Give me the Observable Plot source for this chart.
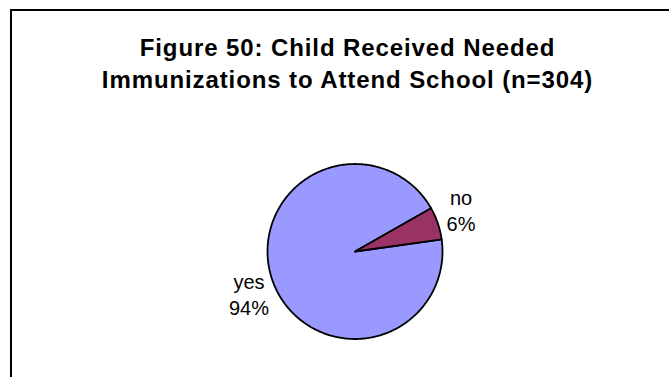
<!DOCTYPE html>
<html>
<head>
<meta charset="utf-8">
<script src="https://cdn.jsdelivr.net/npm/d3@7"></script>
<script src="https://cdn.jsdelivr.net/npm/@observablehq/plot@0.6"></script>
<style>
  html, body { margin: 0; padding: 0; background: #fff; overflow: hidden; }
  #wrap { position: relative; width: 669px; height: 377px; }
  #frame { position: absolute; left: 10px; top: 9px; width: 700px; height: 400px;
           border-top: 2px solid #000; border-left: 2px solid #000; pointer-events: none; }
  #wrap svg g[aria-label="text"]:last-of-type text { letter-spacing: 0.9px; }
</style>
</head>
<body>
<div id="wrap"><div id="frame"></div></div>
<script>
const titleText = "Figure 50: Child Received Needed\nImmunizations to Attend School (n=304)";
const categories = ["yes", "no"];
const percents = [94, 6];
const colors = ["#9999FF", "#993366"];

// Excel-style pie: first slice begins at this compass angle, clockwise
const firstSliceAngle = 82 * Math.PI / 180;

const pie = d3.pie().sort(null).value(d => d.value)
  .startAngle(firstSliceAngle).endAngle(firstSliceAngle + 2 * Math.PI);
const slices = pie(categories.map((c, i) => ({cat: c, value: percents[i]})));

// polygon outline of each slice in unit coordinates (center 0,0, radius 1)
const outline = [];
for (const s of slices) {
  outline.push({cat: s.data.cat, x: 0, y: 0});
  const steps = Math.max(2, Math.ceil((s.endAngle - s.startAngle) / (Math.PI / 180)));
  for (let k = 0; k <= steps; k++) {
    const a = s.startAngle + (s.endAngle - s.startAngle) * k / steps;
    outline.push({cat: s.data.cat, x: Math.sin(a), y: Math.cos(a)});
  }
}

// labels outside each slice along its mid angle (Excel "outside end" placement)
const labelRx = 1.28, labelRy = 1.49;
const labels = slices.map(s => {
  const a = (s.startAngle + s.endAngle) / 2;
  return {x: labelRx * Math.sin(a), y: labelRy * Math.cos(a), text: s.data.cat + "\n" + s.data.value + "%"};
});

const cx = 354.5, cy = 251, R = 87.5;

const chart = Plot.plot({
  width: 669,
  height: 377,
  margin: 0,
  style: {fontFamily: "'Liberation Sans', Arial, sans-serif", background: "transparent"},
  x: {domain: [-1, 1], range: [cx - R, cx + R], axis: null},
  y: {domain: [-1, 1], range: [cy + R, cy - R], axis: null},
  color: {domain: categories, range: colors},
  marks: [
    Plot.line(outline, {x: "x", y: "y", z: "cat", fill: "cat", stroke: "#000",
      strokeWidth: 1.8, strokeLinejoin: "round", curve: "linear-closed"}),
    Plot.text(labels, {x: "x", y: "y", text: "text", fontSize: 20, lineHeight: 1.32,
      fill: "#000", textAnchor: "middle", lineAnchor: "middle"}),
    Plot.text([titleText], {frameAnchor: "top", dx: 12.5, dy: 32, fontSize: 24,
      fontWeight: "bold", lineHeight: 1.36, fill: "#000"})
  ]
});
document.getElementById("wrap").prepend(chart);
</script>
</body>
</html>
